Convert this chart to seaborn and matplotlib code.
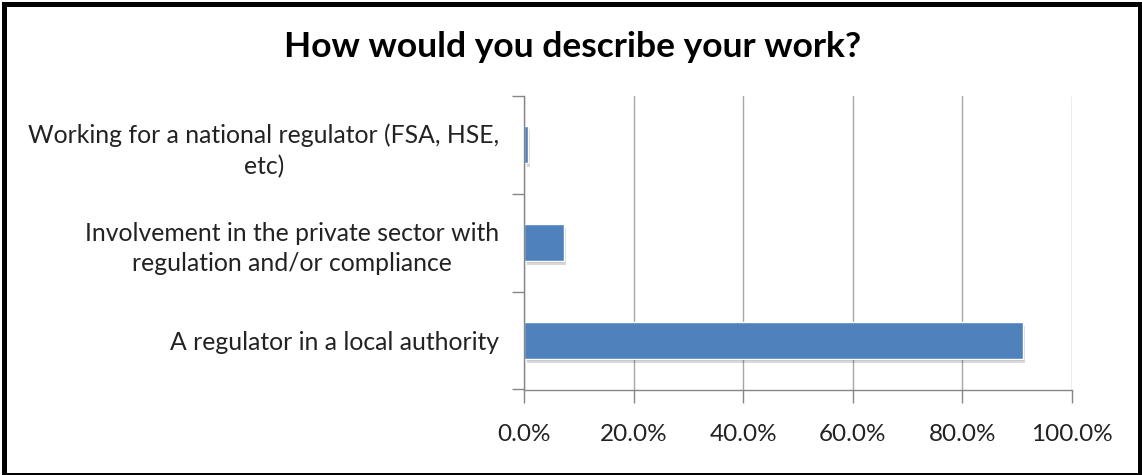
import matplotlib
matplotlib.use("Agg")
import matplotlib.pyplot as plt
import matplotlib.patheffects as pe
from matplotlib.patches import Rectangle
from matplotlib.ticker import FixedLocator, PercentFormatter
import pandas as pd
import seaborn as sns

# Survey responses: share of respondents per type of work (percent)
categories = [
    "Working for a national regulator (FSA, HSE,\netc)",
    "Involvement in the private sector with\nregulation and/or compliance",
    "A regulator in a local authority",
]
shares = [0.6, 7.2, 91.0]
x_ticks = [0, 20, 40, 60, 80, 100]

df = pd.DataFrame({"category": categories, "share": shares})

sns.set_theme(style="white")
plt.rcParams["font.family"] = ["Lato", "DejaVu Sans"]

W, H, DPI = 1142, 475, 100
fig = plt.figure(figsize=(W / DPI, H / DPI), dpi=DPI)
ax = fig.add_axes([524.3 / W, 1 - 389.5 / H, (1071.8 - 524.3) / W, (389.5 - 95.7) / H])

bar_color = "#4F81BD"
sns.barplot(data=df, x="share", y="category", order=categories, orient="h",
            color=bar_color, saturation=1, width=0.38, ax=ax,
            edgecolor="white", linewidth=1.0, zorder=3)

for bar in ax.patches:
    bar.set_path_effects([
        pe.SimplePatchShadow(offset=(2, -3), shadow_rgbFace="#000000", alpha=0.15),
        pe.SimplePatchShadow(offset=(1, -1.5), shadow_rgbFace="#000000", alpha=0.12),
        pe.Normal(),
    ])

ax.set_xlim(0, 100)
ax.set_ylim(2.5, -0.5)
ax.xaxis.set_major_locator(FixedLocator(x_ticks))
ax.xaxis.set_major_formatter(PercentFormatter(decimals=1))

grid_color = "#A6A6A6"
axis_color = "#868686"
ax.grid(axis="x", color=grid_color, linewidth=1.0, zorder=0)
ax.grid(axis="y", visible=False)
ax.set_axisbelow(True)

for side in ("top", "right"):
    ax.spines[side].set_visible(False)
for side in ("left", "bottom"):
    ax.spines[side].set_color(axis_color)
    ax.spines[side].set_linewidth(1.0)
    ax.spines[side].set_zorder(4)

# Category boundaries carry the tick marks on the vertical axis
ax.yaxis.set_minor_locator(FixedLocator([-0.5, 0.5, 1.5, 2.5]))
ax.tick_params(axis="y", which="major", length=0, pad=18,
               labelsize=17.8, labelcolor="#222222")
ax.tick_params(axis="y", which="minor", left=True, length=9, width=1.0, color=axis_color)
ax.tick_params(axis="x", which="major", bottom=True, length=9, width=1.0, color=axis_color,
               labelsize=17.5, labelcolor="#222222", pad=16)
for lbl in ax.get_yticklabels():
    lbl.set_multialignment("center")
    lbl.set_linespacing(1.4)

ax.set_xlabel("")
ax.set_ylabel("")

fig.text(573 / W, 1 - 47 / H, "How would you describe your work?",
         ha="center", va="center", fontsize=25.5, fontweight="bold", color="#000000")

# Outer frame around the chart
frame = [
    (2, 2, 5, 472),        # left
    (2, 2, 1140, 5),       # top
    (1137.5, 2, 4.5, 472), # right
    (2, 472.5, 1140, 2),   # bottom
]
for x0, y0, w, h in frame:
    fig.add_artist(Rectangle((x0 / W, 1 - (y0 + h) / H), w / W, h / H,
                             transform=fig.transFigure, facecolor="#000000",
                             edgecolor="none"))

fig.savefig("out.png", dpi=DPI, facecolor="white")
